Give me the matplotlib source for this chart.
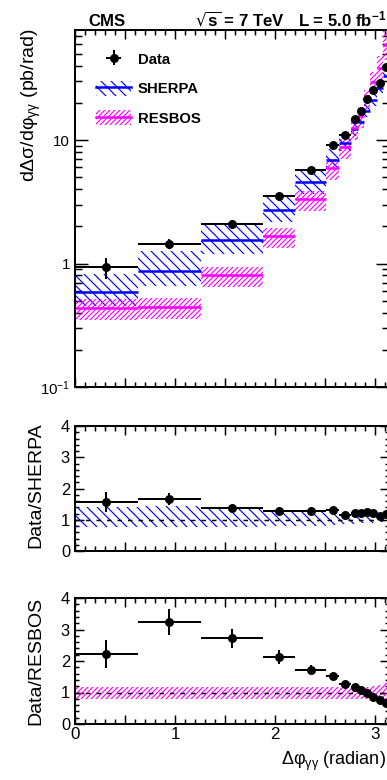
import numpy as np
import matplotlib
matplotlib.use('Agg')
import matplotlib.pyplot as plt
from matplotlib.patches import Patch
from matplotlib.lines import Line2D
from matplotlib.ticker import MultipleLocator, FuncFormatter, LogLocator, NullFormatter, FixedLocator

plt.rcParams['font.family'] = ['Liberation Sans', 'DejaVu Sans']
plt.rcParams['mathtext.default'] = 'regular'
plt.rcParams['hatch.linewidth'] = 0.7

DPI = 120
W, H = 387, 780

# ---- data ----
bin_edges_pi = [0, 0.2, 0.4, 0.6, 0.7, 0.8, 0.84, 0.88, 0.90, 0.92, 0.94, 0.96, 0.98, 1.0]

data_xsec = [0.93, 1.45, 2.10, 3.50, 5.70, 9.1, 11.0, 14.8, 17.1, 21.5, 25.3, 29.2, 38.9]
data_xsec_err = [0.18, 0.13, 0.15, 0.22, 0.35, 0.6, 0.7, 0.9, 1.0, 1.2, 1.4, 1.6, 2.2]

sherpa_xsec = [0.587, 0.867, 1.54, 2.72, 4.53, 6.9, 9.5, 12.2, 14.0, 17.1, 20.9, 26.3, 33.0]
sherpa_rel_up = [1.40, 1.45, 1.35, 1.26, 1.24, 1.22, 1.20, 1.18, 1.16, 1.15, 1.14, 1.13, 1.12]
sherpa_rel_dn = [0.77, 0.76, 0.78, 0.80, 0.80, 0.84, 0.86, 0.88, 0.90, 0.90, 0.91, 0.92, 0.93]

resbos_xsec = [0.44, 0.446, 0.80, 1.67, 3.30, 5.95, 8.7, 12.4, 15.7, 21.5, 29.4, 38.5, 59.0]
resbos_rel_up = [1.17, 1.17, 1.17, 1.17, 1.17, 1.17, 1.17, 1.17, 1.18, 1.18, 1.20, 1.24, 1.33]
resbos_rel_dn = [0.80, 0.80, 0.80, 0.80, 0.80, 0.80, 0.80, 0.80, 0.80, 0.80, 0.80, 0.78, 0.75]

ratio_sherpa = [1.58, 1.67, 1.38, 1.27, 1.28, 1.32, 1.16, 1.21, 1.22, 1.26, 1.21, 1.11, 1.18]
ratio_sherpa_err = [0.32, 0.20, 0.07, 0.06, 0.05, 0.05, 0.04, 0.04, 0.04, 0.04, 0.04, 0.04, 0.04]

ratio_resbos = [2.23, 3.25, 2.72, 2.12, 1.73, 1.53, 1.26, 1.19, 1.09, 1.00, 0.86, 0.75, 0.66]
ratio_resbos_err = [0.45, 0.41, 0.30, 0.22, 0.15, 0.10, 0.06, 0.06, 0.05, 0.05, 0.05, 0.05, 0.05]

legend_labels = ['Data', 'SHERPA', 'RESBOS']

# ---- derived arrays ----
edges = np.array(bin_edges_pi) * np.pi
lefts = edges[:-1]
widths = np.diff(edges)
centers = 0.5 * (edges[:-1] + edges[1:])
hw = widths / 2

def arr(a):
    return np.asarray(a, dtype=float)

BLUE = '#0000ff'
MAG = '#ff00ff'
HATCH_B = '\\' * 4
HATCH_M = '/' * 8

px2pt = 72.0 / DPI

fig = plt.figure(figsize=(W / DPI, H / DPI), dpi=DPI)

L = 75
R = 75 + np.pi * 100.0
ax0 = fig.add_axes([L / W, 1 - 387 / H, (R - L) / W, 357 / H])
ax1 = fig.add_axes([L / W, 1 - 551 / H, (R - L) / W, 125 / H])
ax2 = fig.add_axes([L / W, 1 - 724 / H, (R - L) / W, 126 / H])

# ---- top panel ----
s = arr(sherpa_xsec)
r = arr(resbos_xsec)
ax0.bar(lefts, s * (arr(sherpa_rel_up) - arr(sherpa_rel_dn)), bottom=s * arr(sherpa_rel_dn),
        width=widths, align='edge', fill=False, hatch=HATCH_B, edgecolor=BLUE, linewidth=0, zorder=2)
ax0.bar(lefts, r * (arr(resbos_rel_up) - arr(resbos_rel_dn)), bottom=r * arr(resbos_rel_dn),
        width=widths, align='edge', fill=False, hatch=HATCH_M, edgecolor=MAG, linewidth=0, zorder=2)
ax0.hlines(s, edges[:-1], edges[1:], colors=BLUE, lw=2.5 * px2pt, zorder=3)
ax0.hlines(r, edges[:-1], edges[1:], colors=MAG, lw=2.5 * px2pt, zorder=3)
eb = ax0.errorbar(centers, data_xsec, xerr=hw, yerr=data_xsec_err, fmt='o', color='black',
                  ms=7.3 * px2pt, lw=2 * px2pt, capsize=0, zorder=4)
ax0.set_yscale('log')
ax0.set_ylim(0.1, 10 ** (1 + 110 / 123.5))
ax0.set_yticks([0.1, 1, 10])
ax0.set_yticklabels(['$10^{-1}$', '1', '10'])
ax0.yaxis.set_minor_locator(LogLocator(base=10, subs=np.arange(2, 10)))
ax0.yaxis.set_minor_formatter(NullFormatter())

h_s = (Patch(facecolor='none', edgecolor=BLUE, hatch=HATCH_B, linewidth=0),
       Line2D([], [], color=BLUE, lw=2.5 * px2pt))
h_r = (Patch(facecolor='none', edgecolor=MAG, hatch=HATCH_M, linewidth=0),
       Line2D([], [], color=MAG, lw=2.5 * px2pt))
leg_fs = 14.9 * px2pt
ax0.legend([eb, h_s, h_r], legend_labels, loc='upper left',
           bbox_to_anchor=((96 - L) / (R - L), (387 - 51.5) / 357),
           frameon=False, borderpad=0, borderaxespad=0,
           handlelength=35 / 14.9, handleheight=17 / 14.9, handletextpad=0.47,
           labelspacing=0.94, prop={'weight': 'bold', 'size': leg_fs})

# ---- ratio panels ----
def ratio_panel(ax, rel_up, rel_dn, color, hatch, vals, errs):
    up = arr(rel_up); dn = arr(rel_dn)
    ax.bar(lefts, up - dn, bottom=dn, width=widths, align='edge', fill=False,
           hatch=hatch, edgecolor=color, linewidth=0, zorder=2)
    ax.plot([0, np.pi], [1, 1], color='black', lw=1.5 * px2pt, ls=(0, (3, 4)), zorder=3)
    ax.errorbar(centers, vals, xerr=hw, yerr=errs, fmt='o', color='black',
                ms=7.3 * px2pt, lw=2 * px2pt, capsize=0, zorder=4)
    ax.set_ylim(0, 4)
    ax.yaxis.set_major_locator(FixedLocator([0, 1, 2, 3, 4]))
    ax.yaxis.set_minor_locator(MultipleLocator(0.2))

ratio_panel(ax1, sherpa_rel_up, sherpa_rel_dn, BLUE, HATCH_B, ratio_sherpa, ratio_sherpa_err)
ratio_panel(ax2, resbos_rel_up, resbos_rel_dn, MAG, HATCH_M, ratio_resbos, ratio_resbos_err)

def xfmt(v, pos):
    if abs(v - round(v)) < 1e-6:
        return '%d' % round(v)
    return ''

for ax in (ax0, ax1, ax2):
    ax.set_xlim(0, np.pi)
    ax.xaxis.set_major_locator(MultipleLocator(0.5))
    ax.xaxis.set_minor_locator(MultipleLocator(0.1))
    for sp in ax.spines.values():
        sp.set_linewidth(2 * px2pt)
    ax.tick_params(which='both', direction='in', top=True, right=True, width=1.5 * px2pt, color='black')
    ax.tick_params(axis='x', which='major', length=9 * px2pt)
    ax.tick_params(axis='x', which='minor', length=5 * px2pt)

ax0.tick_params(axis='y', which='major', length=13 * px2pt, labelsize=15 * px2pt, pad=3)
ax0.tick_params(axis='y', which='minor', length=7 * px2pt)
for ax in (ax1, ax2):
    ax.tick_params(axis='y', which='major', length=9 * px2pt, labelsize=16.5 * px2pt, pad=3)
    ax.tick_params(axis='y', which='minor', length=4.5 * px2pt)

ax0.tick_params(axis='x', labelbottom=False)
ax1.tick_params(axis='x', labelbottom=False)
ax2.xaxis.set_major_formatter(FuncFormatter(xfmt))
ax2.tick_params(axis='x', labelsize=17 * px2pt, pad=2)

# ---- texts ----
hdr_fs = 16.7 * px2pt
fig.text(88 / W, 1 - 26 / H, 'CMS', fontsize=hdr_fs, weight='bold', ha='left', va='baseline')
fig.text(195 / W, 1 - 26 / H, r'$\sqrt{s}$ = 7 TeV', fontsize=hdr_fs, weight='bold', ha='left', va='baseline')
fig.text(386 / W, 1 - 26 / H, r'L = 5.0 fb$^{-1}$', fontsize=hdr_fs, weight='bold', ha='right', va='baseline')

ylab_fs = 19.5 * px2pt
fig.text(31 / W, 1 - 28 / H, r'dΔσ/dφ$_{γγ}$ (pb/rad)', rotation=90, fontsize=ylab_fs, ha='center', va='top')
fig.text(36 / W, 1 - 422 / H, 'Data/SHERPA', rotation=90, fontsize=ylab_fs, ha='center', va='top')
fig.text(36 / W, 1 - 597 / H, 'Data/RESBOS', rotation=90, fontsize=ylab_fs, ha='center', va='top')
fig.text(386 / W, 1 - 765 / H, r'Δφ$_{γγ}$ (radian)', fontsize=18 * px2pt, ha='right', va='baseline')

fig.savefig('out.png', dpi=DPI)
